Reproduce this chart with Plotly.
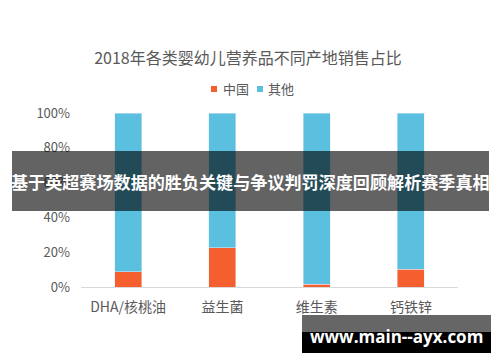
import plotly.graph_objects as go

categories = ["DHA/核桃油", "益生菌", "维生素", "钙铁锌"]
china = [0.088, 0.226, 0.017, 0.103]
other = [1 - v for v in china]
series_names = ["中国", "其他"]
series_colors = ["#F55E2F", "#5BC0E0"]
y_ticks = [0, 0.2, 0.4, 0.6, 0.8, 1.0]
y_tick_labels = ["0%", "20%", "40%", "60%", "80%", "100%"]
title_text = "2018年各类婴幼儿营养品不同产地销售占比"
banner_text = "基于英超赛场数据的胜负关键与争议判罚深度回顾解析赛季真相"
watermark_text = "www.main--ayx.com"

FONT = "Noto Sans CJK SC, Noto Sans, sans-serif"
GRAY = "#595959"

fig = go.Figure()
fig.add_trace(go.Bar(x=categories, y=china, name=series_names[0], marker_color=series_colors[0]))
fig.add_trace(go.Bar(x=categories, y=other, name=series_names[1], marker_color=series_colors[1]))

# plot area: x 81..458, y 113..287 in pixels
L, R, T, B = 81, 458, 113, 287
W, H = R - L, B - T
def px(x): return (x - L) / W
def py(y): return (B - y) / H

fig.update_layout(
    width=500, height=362,
    margin=dict(l=L, r=500 - R, t=T, b=362 - B),
    barmode="stack",
    bargap=0.714,
    paper_bgcolor="white",
    plot_bgcolor="white",
    font=dict(family=FONT, color=GRAY),
    title=dict(text=title_text, x=0.496, xanchor="center", xref="container",
               y=1 - 58 / 362, yanchor="middle", yref="container",
               font=dict(size=16, color=GRAY)),
    showlegend=False,
    xaxis=dict(showline=True, linecolor="#d9d9d9", linewidth=1, ticks="",
               tickfont=dict(size=14, color=GRAY), showgrid=False, fixedrange=True,
               ticklabelstandoff=7),
    yaxis=dict(range=[0, 1.0], tickvals=y_ticks, ticktext=y_tick_labels,
               showgrid=False, zeroline=False, showline=False, ticks="",
               tickfont=dict(size=13, color=GRAY), ticklabelstandoff=10),
)

# manual compact legend
legend_pos = [(211, 221), (257, 266)]
for (sx, tx), name, color in zip(legend_pos, series_names, series_colors):
    fig.add_shape(type="rect", xref="paper", yref="paper",
                  x0=px(sx), x1=px(sx + 6), y0=py(92), y1=py(86),
                  fillcolor=color, line_width=0)
    fig.add_annotation(text=name, xref="paper", yref="paper",
                       x=px(tx), y=py(89), xanchor="left", yanchor="middle",
                       showarrow=False, font=dict(size=13, color=GRAY))

# overlay banner
fig.add_shape(type="rect", xref="paper", yref="paper", layer="above",
              x0=px(12), x1=px(489), y0=py(211), y1=py(151),
              fillcolor="rgba(0,0,0,0.61)", line_width=0)
fig.add_annotation(text=banner_text, xref="paper", yref="paper",
                   x=px(250), y=py(181), xanchor="center", yanchor="middle",
                   showarrow=False, font=dict(size=17.1, color="white", family=FONT, weight="bold"))

# watermark box
fig.add_shape(type="rect", xref="paper", yref="paper", layer="above",
              x0=px(302), x1=px(491), y0=py(353), y1=py(315),
              fillcolor="rgba(0,0,0,0.6)", line_width=0)
fig.add_shape(type="rect", xref="paper", yref="paper", layer="above",
              x0=px(302), x1=px(491), y0=py(353), y1=py(332),
              fillcolor="black", line_width=0)
fig.add_annotation(text=watermark_text, xref="paper", yref="paper",
                   x=px(396), y=py(336), xanchor="center", yanchor="middle",
                   showarrow=False, font=dict(size=17, color="white",
                                              family="Open Sans, DejaVu Sans, sans-serif", weight="bold"))

fig.write_html("out.html", config={"displayModeBar": False},
               post_script="document.body.style.margin='0px';")
